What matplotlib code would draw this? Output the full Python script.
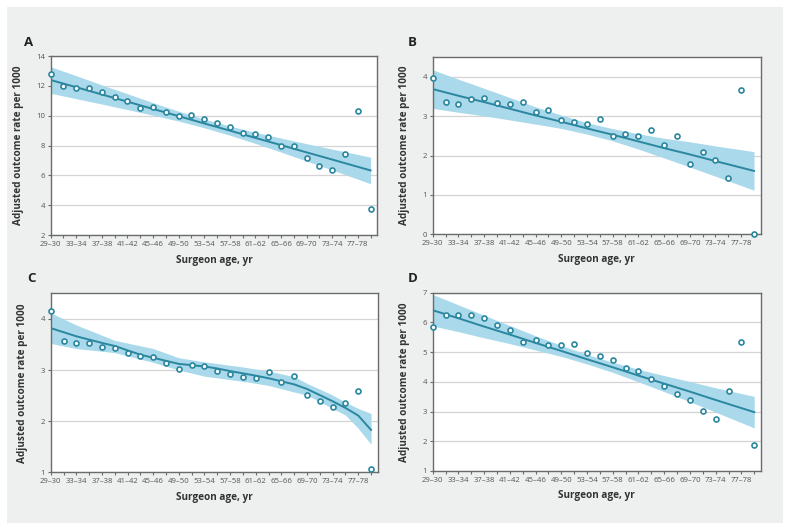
import matplotlib
matplotlib.use("Agg")
import matplotlib.pyplot as plt
from matplotlib.patches import Rectangle
import numpy as np

plt.rcParams['font.family'] = ['Open Sans', 'DejaVu Sans']

age_bins = ["29–30", "31–32", "33–34", "35–36", "37–38", "39–40", "41–42", "43–44",
            "45–46", "47–48", "49–50", "51–52", "53–54", "55–56", "57–58", "59–60",
            "61–62", "63–64", "65–66", "67–68", "69–70", "71–72", "73–74", "75–76",
            "77–78", "79–80"]

# Observed adjusted outcome rates per 1000
rate_A = [12.80, 11.97, 11.84, 11.85, 11.59, 11.28, 10.99, 10.52, 10.61, 10.25, 10.00, 10.07, 9.76,
          9.54, 9.25, 8.87, 8.78, 8.60, 8.00, 8.00, 7.17, 6.62, 6.35, 7.46, 10.34, 3.72]
rate_B = [3.98, 3.35, 3.30, 3.45, 3.46, 3.33, 3.31, 3.36, 3.10, 3.17, 2.91, 2.86, 2.79,
          2.94, 2.51, 2.55, 2.51, 2.65, 2.28, 2.51, 1.78, 2.10, 1.90, 1.43, 3.67, 0.01]
rate_C = [4.15, 3.57, 3.52, 3.52, 3.45, 3.43, 3.34, 3.27, 3.25, 3.14, 3.03, 3.10, 3.08,
          2.98, 2.92, 2.87, 2.84, 2.97, 2.76, 2.88, 2.51, 2.39, 2.28, 2.35, 2.59, 1.07]
rate_D = [5.83, 6.26, 6.26, 6.25, 6.14, 5.91, 5.75, 5.35, 5.42, 5.24, 5.23, 5.26, 4.98,
          4.88, 4.72, 4.47, 4.35, 4.11, 3.85, 3.60, 3.40, 3.03, 2.76, 3.70, 5.35, 1.87]

# Fitted trend and 95% confidence band (read at bin positions)
fit_pos_ABD = [0, 2, 4, 6, 8, 10, 12, 14, 16, 18, 20, 22, 25]
fit_A = [12.39, 11.91, 11.42, 10.94, 10.45, 9.97, 9.48, 9.00, 8.51, 8.03, 7.54, 7.06, 6.33]
hw_A = [0.89, 0.77, 0.64, 0.53, 0.42, 0.33, 0.29, 0.31, 0.37, 0.47, 0.58, 0.70, 0.89]
fit_B = [3.69, 3.52, 3.36, 3.19, 3.02, 2.86, 2.69, 2.53, 2.36, 2.19, 2.03, 1.86, 1.61]
hw_B = [0.49, 0.42, 0.35, 0.285, 0.22, 0.17, 0.145, 0.155, 0.195, 0.25, 0.32, 0.385, 0.49]
fit_D = [6.41, 6.14, 5.86, 5.59, 5.31, 5.04, 4.76, 4.49, 4.21, 3.94, 3.67, 3.39, 2.98]
hw_D = [0.53, 0.45, 0.38, 0.305, 0.24, 0.185, 0.16, 0.17, 0.21, 0.27, 0.34, 0.41, 0.53]

fit_pos_C = [0, 2, 4, 5, 7, 10, 12, 13, 14, 16, 17, 18, 19, 20, 21, 22, 23, 24, 25]
fit_C = [3.82, 3.66, 3.53, 3.47, 3.30, 3.12, 3.07, 3.03, 2.98, 2.89, 2.84, 2.78, 2.72,
         2.63, 2.51, 2.39, 2.26, 2.11, 1.83]
ci_pos_C = [0, 2, 5, 8, 10, 12, 15, 17, 19, 20, 22, 23, 24, 25]
upper_C = [4.12, 3.88, 3.58, 3.42, 3.24, 3.16, 3.06, 2.98, 2.87, 2.74, 2.51, 2.37, 2.25, 2.15]
lower_C = [3.52, 3.42, 3.34, 3.15, 3.00, 2.88, 2.78, 2.70, 2.57, 2.51, 2.25, 2.12, 1.86, 1.55]

panels = [
    dict(letter="A", rates=rate_A, fx=fit_pos_ABD, fy=fit_A,
         cx=fit_pos_ABD, up=list(np.add(fit_A, hw_A)), lo=list(np.subtract(fit_A, hw_A)),
         ylim=(2, 14), yticks=[2, 4, 6, 8, 10, 12, 14],
         pos=[0.0641, 0.5574, 0.4128, 0.3371], lab=(29, 42)),
    dict(letter="B", rates=rate_B, fx=fit_pos_ABD, fy=fit_B,
         cx=fit_pos_ABD, up=list(np.add(fit_B, hw_B)), lo=list(np.subtract(fit_B, hw_B)),
         ylim=(0, 4.5), yticks=[0, 1, 2, 3, 4],
         pos=[0.5470, 0.5588, 0.4147, 0.3335], lab=(412, 43)),
    dict(letter="C", rates=rate_C, fx=fit_pos_C, fy=fit_C,
         cx=ci_pos_C, up=upper_C, lo=lower_C,
         ylim=(1, 4.5), yticks=[1, 2, 3, 4],
         pos=[0.0641, 0.1105, 0.4134, 0.3371], lab=(31, 279)),
    dict(letter="D", rates=rate_D, fx=fit_pos_ABD, fy=fit_D,
         cx=fit_pos_ABD, up=list(np.add(fit_D, hw_D)), lo=list(np.subtract(fit_D, hw_D)),
         ylim=(1, 7), yticks=[1, 2, 3, 4, 5, 6, 7],
         pos=[0.5470, 0.1130, 0.4150, 0.3358], lab=(413, 279)),
]

W, H = 791, 531
fig = plt.figure(figsize=(W / 100, H / 100), dpi=100, facecolor="white")
fig.patches.append(Rectangle((7 / W, 8 / H), 776 / W, 516 / H, transform=fig.transFigure,
                             facecolor="#eef0f0", edgecolor="none", zorder=-10))

teal = "#2b879f"
band = "#a9d9ea"
spine_c = "#6b6b6b"
x = np.arange(len(age_bins))

for p in panels:
    ax = fig.add_axes(p["pos"])
    ax.set_facecolor("white")
    ax.fill_between(p["cx"], p["lo"], p["up"], color=band, linewidth=0, zorder=2)
    ax.plot(p["fx"], p["fy"], color=teal, linewidth=1.4, zorder=3)
    ax.plot(x, p["rates"], linestyle="none", marker="o", markersize=3.6,
            markerfacecolor="white", markeredgecolor=teal, markeredgewidth=1.2, zorder=4,
            clip_on=False)
    ax.set_xlim(0, 25.52)
    ax.set_ylim(*p["ylim"])
    ax.set_yticks(p["yticks"])
    ax.set_yticklabels([str(t) for t in p["yticks"]])
    ax.set_xticks(x)
    ax.set_xticklabels([lab if i % 2 == 0 and i < 25 else "" for i, lab in enumerate(age_bins)])
    ax.grid(axis="y", color="#d4d4d4", linewidth=0.9, zorder=0)
    ax.set_axisbelow(True)
    for s in ax.spines.values():
        s.set_color(spine_c)
        s.set_linewidth(1.0)
    ax.tick_params(axis="both", colors=spine_c, labelcolor="#555555", labelsize=5.6,
                   length=2.5, width=0.8, pad=1.5)
    ax.set_xlabel("Surgeon age, yr", fontsize=7.2, fontweight="bold", color="#333333",
                  labelpad=5)
    ax.set_ylabel("Adjusted outcome rate per 1000", fontsize=7.2, fontweight="bold",
                  color="#333333", labelpad=9)
    fig.text(p["lab"][0] / W, 1 - p["lab"][1] / H, p["letter"], fontsize=9.5,
             fontweight="bold", color="#222222", ha="center", va="center")

fig.savefig("out.png", dpi=100, facecolor="white")
